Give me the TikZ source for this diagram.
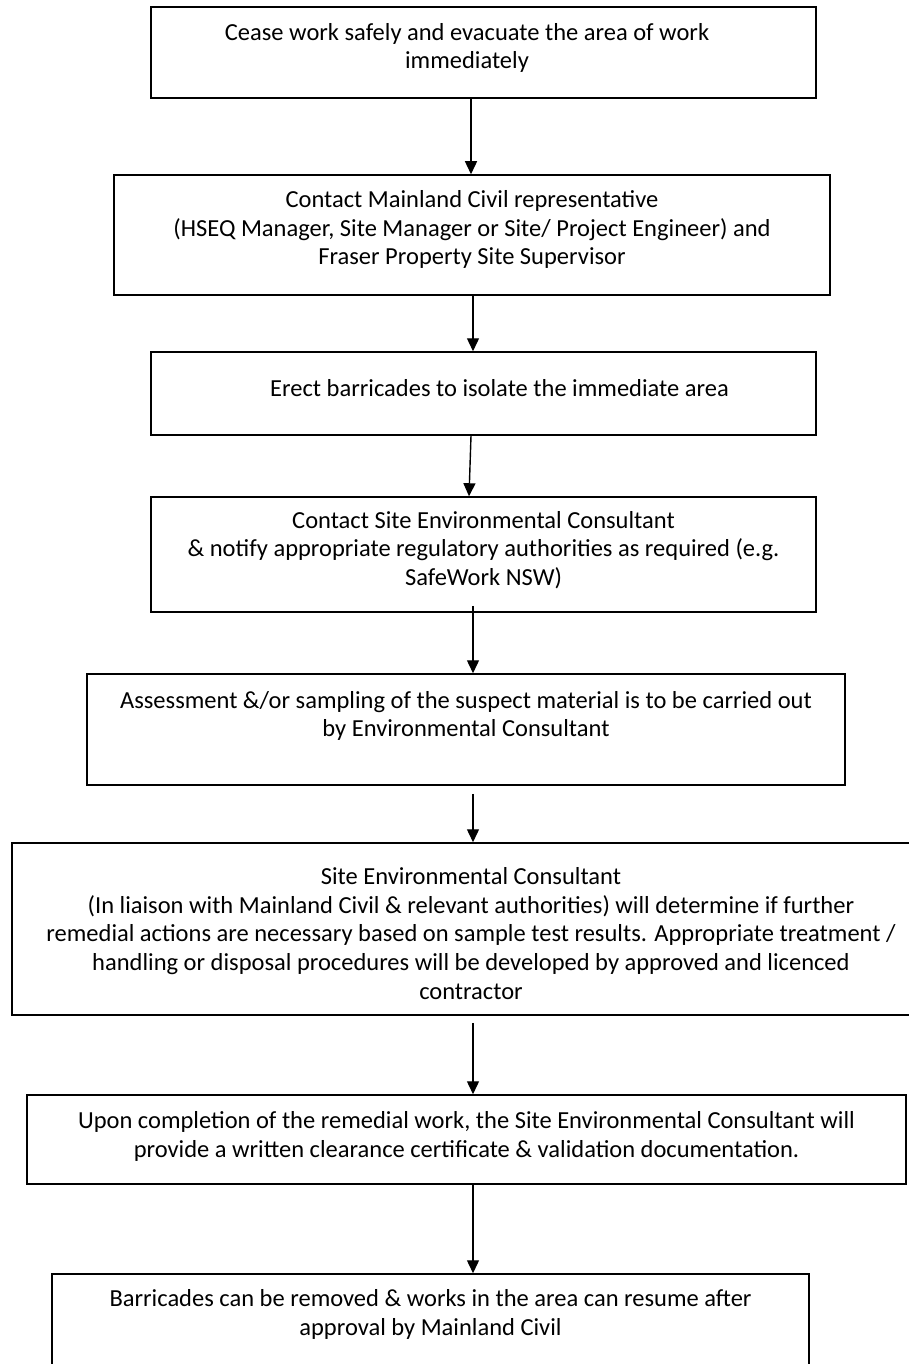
\documentclass[tikz,border=0pt]{standalone}
\usepackage{fontspec}
\setmainfont{Carlito}
\usetikzlibrary{arrows.meta}
\begin{document}
\begin{tikzpicture}[x=1pt,y=-1pt,
  stepbox/.style={draw, line width=1.5pt, inner sep=0pt},
  steptext/.style={align=center, inner sep=0pt, font=\fontsize{24.5}{28.7}\selectfont},
  flow/.style={line width=1.4pt, -{Triangle[width=12pt,length=13pt]}}]
\useasboundingbox (0,0) rectangle (909,1364);
\clip (0,0) rectangle (909,1364);

% boxes
\node[stepbox, minimum width=665pt, minimum height=91pt]  (b1) at (483.5,52.5) {};
\node[stepbox, minimum width=716pt, minimum height=120pt] (b2) at (472,235) {};
\node[stepbox, minimum width=665pt, minimum height=83pt]  (b3) at (483.5,393.5) {};
\node[stepbox, minimum width=665pt, minimum height=115pt] (b4) at (483.5,554.5) {};
\node[stepbox, minimum width=758pt, minimum height=111pt] (b5) at (466,729.5) {};
\node[stepbox, minimum width=918pt, minimum height=172pt] (b6) at (471,929) {};
\node[stepbox, minimum width=879pt, minimum height=89pt]  (b7) at (466.5,1139.5) {};
\node[stepbox, minimum width=757pt, minimum height=146pt] (b8) at (430.5,1347) {};

% texts
\node[steptext] (t1) at (467,48) {Cease work safely and evacuate the area of work\\immediately};
\node[steptext] (t2) at (472,229.5) {Contact Mainland Civil representative\\(HSEQ Manager, Site Manager or Site/ Project Engineer) and\\Fraser Property Site Supervisor};
\node[steptext] (t3) at (499.5,388) {Erect barricades to isolate the immediate area};
\node[steptext] (t4) at (483.5,550) {Contact Site Environmental Consultant\\\& notify appropriate regulatory authorities as required (e.g.\\SafeWork NSW)};
\node[steptext] (t5) at (466,716) {Assessment \&/or sampling of the suspect material is to be carried out\\by Environmental Consultant};
\node[steptext] (t6) at (471,933.5) {Site Environmental Consultant\\(In liaison with Mainland Civil \& relevant authorities) will determine if further\\remedial actions are necessary based on sample test results. Appropriate treatment /\\handling or disposal procedures will be developed by approved and licenced\\contractor};
\node[steptext] (t7) at (466.5,1136.5) {Upon completion of the remedial work, the Site Environmental Consultant will\\provide a written clearance certificate \& validation documentation.};
\node[steptext] (t8) at (430.5,1314.5) {Barricades can be removed \& works in the area can resume after\\approval by Mainland Civil};

% connectors
\draw[flow] ([xshift=-12.5pt]b1.south) -- ([xshift=-1pt]b2.north);
\draw[flow] ([xshift=1pt]b2.south) -- ([xshift=-10.5pt]b3.north);
\draw[flow] ([xshift=-12.5pt]b3.south) -- ([xshift=-14.5pt]b4.north);
\draw[flow, shorten <=-7pt] ([xshift=-10.5pt]b4.south) -- ([xshift=7pt]b5.north);
\draw[flow, shorten <=8pt] ([xshift=7pt]b5.south) -- ([xshift=2pt]b6.north);
\draw[flow, shorten <=7pt] ([xshift=2pt]b6.south) -- ([xshift=6.5pt]b7.north);
\draw[flow] ([xshift=6.5pt]b7.south) -- ([xshift=42.5pt]b8.north);
\end{tikzpicture}
\end{document}
